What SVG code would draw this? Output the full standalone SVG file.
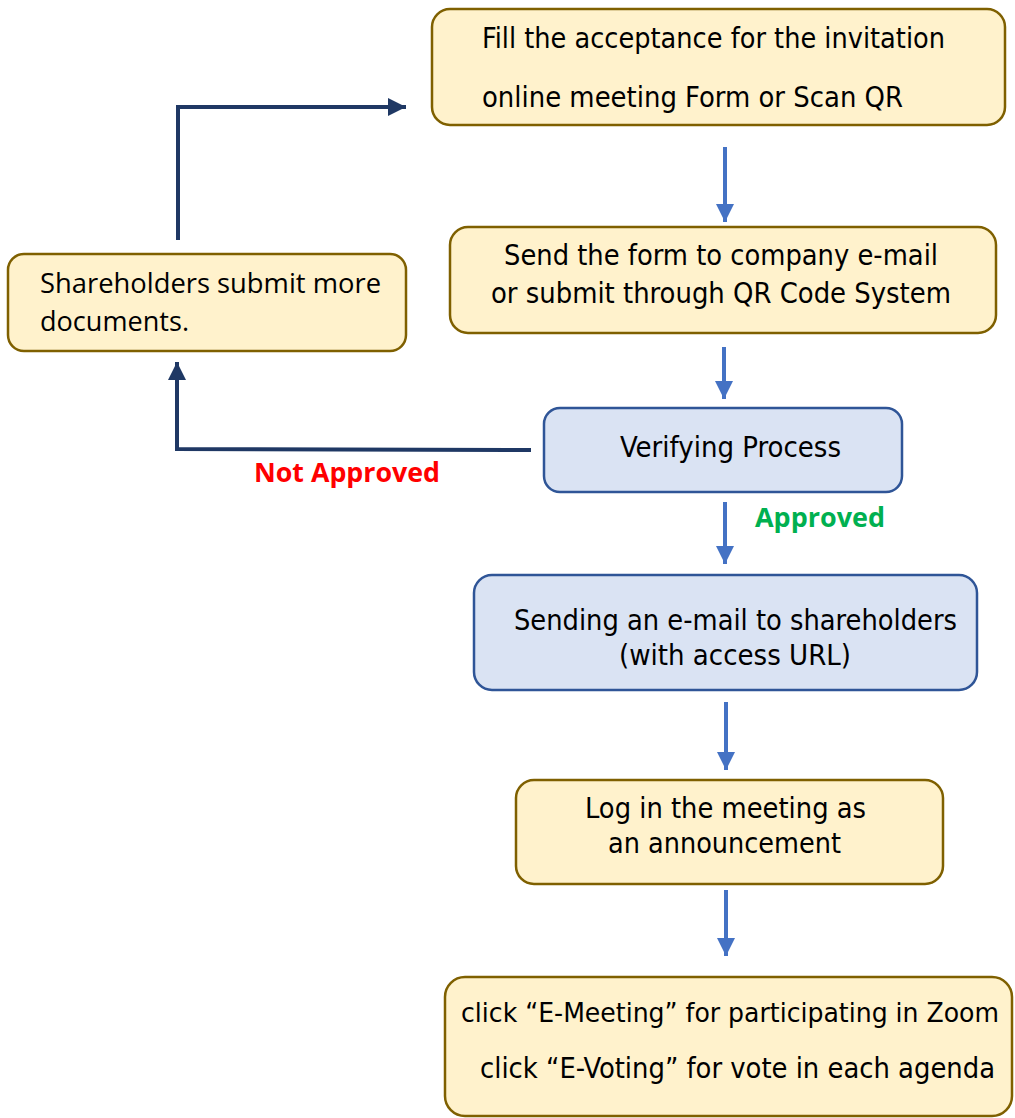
<svg xmlns="http://www.w3.org/2000/svg" width="1015" height="1118" viewBox="0 0 1015 1118">
<style>
.y{fill:#FFF2CC;stroke:#7F6000;stroke-width:2.5}
.b{fill:#DAE3F3;stroke:#2F5597;stroke-width:2.5}
.t{font-family:"DejaVu Sans Condensed","DejaVu Sans",sans-serif;font-size:29px;fill:#000}
.o{font-family:"Open Sans","Noto Sans",sans-serif;font-size:28px;fill:#000}
.l{font-family:"Open Sans","Noto Sans",sans-serif;font-size:26px;font-weight:bold}
.ba{stroke:#4472C4;stroke-width:4;fill:none}
.da{stroke:#1F3864;stroke-width:4;fill:none}
</style>
<defs>
<marker id="mb" viewBox="0 0 10 10" refX="10" refY="5" markerWidth="4.5" markerHeight="4.5" markerUnits="strokeWidth" orient="auto"><path d="M0,0 L10,5 L0,10 Z" fill="#4472C4"/></marker>
<marker id="md" viewBox="0 0 10 10" refX="10" refY="5" markerWidth="4.5" markerHeight="4.5" markerUnits="strokeWidth" orient="auto"><path d="M0,0 L10,5 L0,10 Z" fill="#1F3864"/></marker>
</defs>
<g id="connectors">
<line class="ba" x1="725" y1="147" x2="725" y2="222" marker-end="url(#mb)"/>
<line class="ba" x1="724" y1="347" x2="724" y2="399" marker-end="url(#mb)"/>
<line class="ba" x1="725" y1="502" x2="725" y2="564" marker-end="url(#mb)"/>
<line class="ba" x1="726" y1="702" x2="726" y2="770" marker-end="url(#mb)"/>
<line class="ba" x1="726" y1="890" x2="726" y2="956" marker-end="url(#mb)"/>
<polyline class="da" points="531,450 177,449 177,362" marker-end="url(#md)"/>
<polyline class="da" points="178,240 178,107 406,107" marker-end="url(#md)"/>
<text class="l" x="254" y="482" fill="#FF0000" textLength="186" lengthAdjust="spacingAndGlyphs">Not Approved</text>
<text class="l" x="755" y="527" fill="#00B050" textLength="130" lengthAdjust="spacingAndGlyphs">Approved</text>
</g>
<g id="n1">
<rect class="y" x="432" y="9" width="573" height="116" rx="18"/>
<text class="t" x="482" y="48" textLength="463" lengthAdjust="spacingAndGlyphs">Fill the acceptance for the invitation</text>
<text class="t" x="482" y="107" textLength="421" lengthAdjust="spacingAndGlyphs">online meeting Form or Scan QR</text>
</g>
<g id="n2">
<rect class="y" x="450" y="227" width="546" height="106" rx="18"/>
<text class="t" x="504" y="265" textLength="434" lengthAdjust="spacingAndGlyphs">Send the form to company e-mail</text>
<text class="t" x="491" y="303" textLength="460" lengthAdjust="spacingAndGlyphs">or submit through QR Code System</text>
</g>
<g id="n3">
<rect class="b" x="544" y="408" width="358" height="84" rx="16"/>
<text class="t" x="620" y="457" textLength="221" lengthAdjust="spacingAndGlyphs">Verifying Process</text>
</g>
<g id="n4">
<rect class="b" x="474" y="575" width="503" height="115" rx="18"/>
<text class="t" x="514" y="630" textLength="443" lengthAdjust="spacingAndGlyphs">Sending an e-mail to shareholders</text>
<text class="t" x="619" y="665" textLength="232" lengthAdjust="spacingAndGlyphs">(with access URL)</text>
</g>
<g id="n5">
<rect class="y" x="516" y="780" width="427" height="104" rx="18"/>
<text class="t" x="585" y="818" textLength="281" lengthAdjust="spacingAndGlyphs">Log in the meeting as</text>
<text class="t" x="608" y="853" textLength="233" lengthAdjust="spacingAndGlyphs">an announcement</text>
</g>
<g id="n6">
<rect class="y" x="445" y="977" width="567" height="139" rx="20"/>
<text class="t" x="461" y="1022" style="font-size:27px" textLength="538" lengthAdjust="spacingAndGlyphs">click “E-Meeting” for participating in Zoom</text>
<text class="t" x="480" y="1078" textLength="515" lengthAdjust="spacingAndGlyphs">click “E-Voting” for vote in each agenda</text>
</g>
<g id="n7">
<rect class="y" x="8" y="254" width="398" height="97" rx="16"/>
<text class="o" x="40" y="293" textLength="341" lengthAdjust="spacingAndGlyphs">Shareholders submit more</text>
<text class="o" x="40" y="331" textLength="149" lengthAdjust="spacingAndGlyphs">documents.</text>
</g>
</svg>
